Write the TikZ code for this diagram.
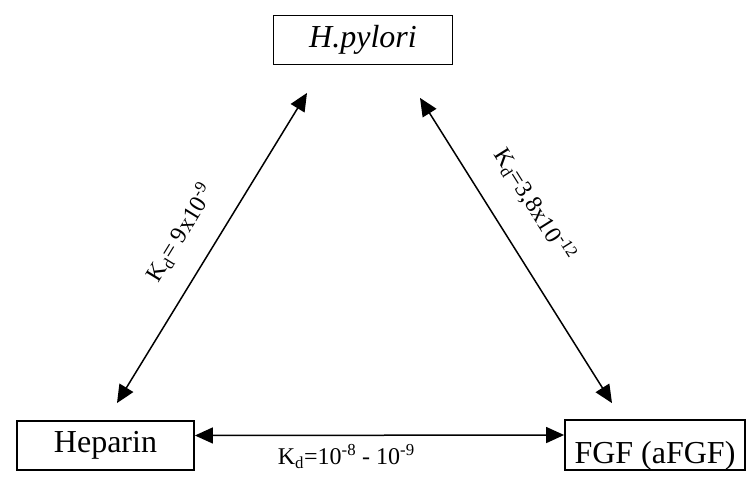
\documentclass[tikz,border=0pt]{standalone}
\usepackage{fontspec}
\setmainfont{Liberation Serif}
\usetikzlibrary{arrows.meta}
\begin{document}
\begin{tikzpicture}[x=1pt,y=-1pt,>={Triangle[length=18pt,width=16pt]},
  species/.style={draw,line width=1.8pt,inner sep=0pt,minimum height=49pt,
    font=\fontsize{32}{36}\selectfont},
  link/.style={<->,line width=1.5pt},
  kd/.style={font=\fontsize{24}{28}\selectfont}]
\useasboundingbox (0,0) rectangle (747,482);
\node[species,minimum width=179pt] (hp) at (363,40) {\textit{H.pylori}};
\node[species,minimum width=177pt] (hep) at (105.5,445.5) {Heparin};
\node[species,minimum width=180pt,minimum height=50pt,
  text height=36pt,text depth=0pt] (fgf) at (655,445) {FGF (aFGF)};
% free ends of the slanted arrows
\coordinate (l1) at ([xshift=11.5pt,yshift=17pt]hep.north);
\coordinate (l2) at ([xshift=-56pt,yshift=-27.5pt]hp.south);
\coordinate (r1) at ([xshift=57pt,yshift=-32.5pt]hp.south);
\coordinate (r2) at ([xshift=-43pt,yshift=16pt]fgf.north);
\draw[link] (l1) -- (l2)
  node[kd,pos=0.49,sloped,above=35pt,anchor=center] {K\textsubscript{d}= 9x10\textsuperscript{-9}};
\draw[link] (r1) -- (r2)
  node[kd,pos=0.42,sloped,above=40pt,anchor=center] {K\textsubscript{d}=3,8x10\textsuperscript{-12}};
\draw[link] ([yshift=10pt]hep.east) -- ([yshift=10pt]fgf.west)
  node[kd,pos=0.41,below=5pt] {K\textsubscript{d}=10\textsuperscript{-8} - 10\textsuperscript{-9}};
\end{tikzpicture}
\end{document}
